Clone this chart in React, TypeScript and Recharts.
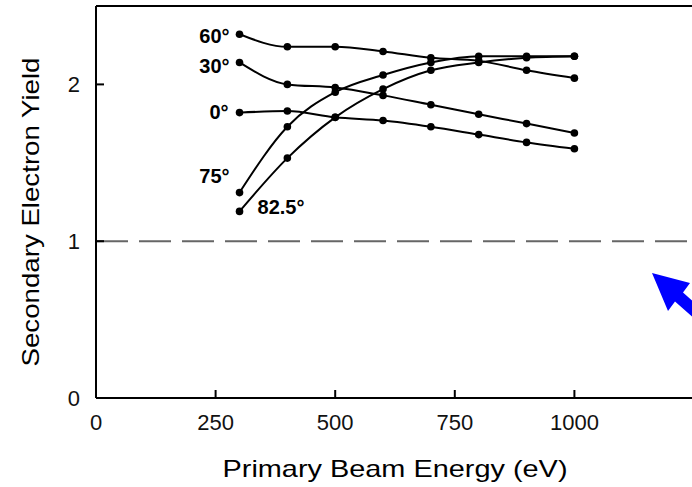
import { LineChart, Line, XAxis, YAxis, ReferenceLine, LabelList, Label } from 'recharts';

const energy = [300, 400, 500, 600, 700, 800, 900, 1000];
const yield0 = [1.82, 1.83, 1.79, 1.77, 1.73, 1.68, 1.63, 1.59];
const yield30 = [2.14, 2.0, 1.98, 1.93, 1.87, 1.81, 1.75, 1.69];
const yield60 = [2.32, 2.24, 2.24, 2.21, 2.17, 2.15, 2.09, 2.04];
const yield75 = [1.31, 1.73, 1.95, 2.06, 2.14, 2.18, 2.18, 2.18];
const yield825 = [1.19, 1.53, 1.79, 1.97, 2.09, 2.14, 2.17, 2.18];

const xTicks = [0, 250, 500, 750, 1000];
const yTicks = [0, 1, 2];

const series = [
  { key: 'a0', name: '0°', values: yield0, dx: -11, dy: -1, anchor: 'end' },
  { key: 'a30', name: '30°', values: yield30, dx: -10, dy: 4, anchor: 'end' },
  { key: 'a60', name: '60°', values: yield60, dx: -10, dy: 2, anchor: 'end' },
  { key: 'a75', name: '75°', values: yield75, dx: -10, dy: -17, anchor: 'end' },
  { key: 'a825', name: '82.5°', values: yield825, dx: 18, dy: -4, anchor: 'start' },
];

const rows = energy.map((e, i) => {
  const row: Record<string, number> = { energy: e };
  series.forEach((s) => {
    row[s.key] = s.values[i];
  });
  return row;
});

const font = '"Liberation Sans", Arial, sans-serif';

function seriesLabel(name: string, dx: number, dy: number, anchor: string) {
  return (props: any) => {
    if (props.index !== 0) return null;
    return (
      <text
        x={props.x + dx}
        y={props.y + dy}
        textAnchor={anchor}
        dominantBaseline="central"
        fontFamily={font}
        fontWeight="bold"
        fontSize={20}
        fill="#000"
      >
        {name}
      </text>
    );
  };
}

function XTitle(props: any) {
  const vb = props.viewBox;
  return (
    <text
      x={vb.x + vb.width / 2}
      y={vb.y + 78.7}
      textAnchor="middle"
      fontFamily={font}
      fontSize={24}
      fill="#000"
      textLength={345}
      lengthAdjust="spacingAndGlyphs"
    >
      Primary Beam Energy (eV)
    </text>
  );
}

function YTitle(props: any) {
  const vb = props.viewBox;
  const cx = 39.3;
  const cy = vb.y + vb.height / 2 + 10;
  return (
    <text
      x={cx}
      y={cy}
      transform={`rotate(-90, ${cx}, ${cy})`}
      textAnchor="middle"
      fontFamily={font}
      fontSize={24}
      fill="#000"
      textLength={309}
      lengthAdjust="spacingAndGlyphs"
    >
      Secondary Electron Yield
    </text>
  );
}

export default function App() {
  return (
    <div style={{ position: 'relative', width: 692, height: 487, overflow: 'hidden', background: '#fff' }}>
      <style>{'body{margin:0}'}</style>
      <LineChart width={700} height={487} data={rows} margin={{ top: 6, right: 6, left: 0, bottom: 0 }}>
        <XAxis
          dataKey="energy"
          type="number"
          domain={[0, 1250]}
          ticks={xTicks}
          interval={0}
          height={89}
          tickSize={-8}
          tickMargin={24}
          axisLine={{ stroke: '#000', strokeWidth: 2 }}
          tickLine={{ stroke: '#000', strokeWidth: 2 }}
          tick={{ fill: '#111', fontSize: 22, fontFamily: font }}
        >
          <Label content={<XTitle />} />
        </XAxis>
        <YAxis
          type="number"
          domain={[0, 2.5]}
          ticks={yTicks}
          interval={0}
          width={96}
          tickSize={-8}
          tickMargin={24}
          axisLine={{ stroke: '#000', strokeWidth: 2 }}
          tickLine={{ stroke: '#000', strokeWidth: 2 }}
          tick={{ fill: '#111', fontSize: 22, fontFamily: font }}
        >
          <Label content={<YTitle />} />
        </YAxis>
        <ReferenceLine y={2.5} stroke="#000" strokeWidth={2} />
        <ReferenceLine x={1250} stroke="#000" strokeWidth={2} />
        <ReferenceLine y={1} stroke="#666" strokeWidth={2} strokeDasharray="32 11" />
        {series.map((s) => (
          <Line
            key={s.key}
            dataKey={s.key}
            type="monotone"
            stroke="#000"
            strokeWidth={2}
            dot={{ r: 3.8, fill: '#000', stroke: 'none' }}
            activeDot={false}
            isAnimationActive={false}
          >
            <LabelList dataKey={s.key} content={seriesLabel(s.name, s.dx, s.dy, s.anchor)} />
          </Line>
        ))}
      </LineChart>
      <svg width={692} height={487} style={{ position: 'absolute', left: 0, top: 0, pointerEvents: 'none' }}>
        <polygon
          points="652,273 668,311 675,301.5 720,341.5 728,332.5 683,292.5 690,283"
          fill="#0000ff"
        />
      </svg>
    </div>
  );
}
